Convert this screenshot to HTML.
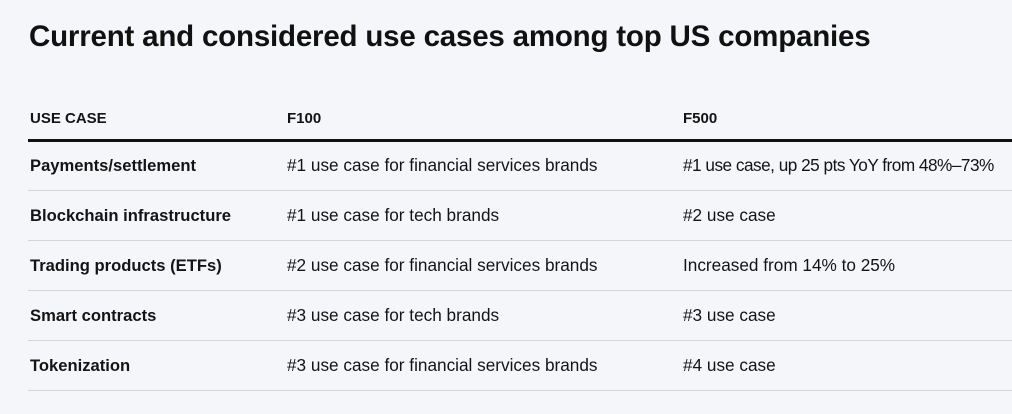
<!DOCTYPE html>
<html><head><style>
body{margin:0;width:1012px;height:414px;background:#f5f6fa;font-family:"Liberation Sans",sans-serif;color:#141414;position:relative;overflow:hidden}
.t{position:absolute;white-space:nowrap}
h1{position:absolute;left:29px;top:20px;margin:0;font-size:29.5px;font-weight:bold;letter-spacing:-0.2px;color:#111}
.h{font-weight:bold;font-size:15px}
.c1{font-weight:bold;font-size:16.6px;left:30px}
.c{font-size:17.2px}
.line{position:absolute;left:28px;width:984px;height:1px;background:#d4d5d9}
</style></head><body>
<h1>Current and considered use cases among top US companies</h1>
<div class="t h" style="left:30px;top:110px">USE CASE</div>
<div class="t h" style="left:287px;top:110px">F100</div>
<div class="t h" style="left:683px;top:110px">F500</div>
<div style="position:absolute;left:28px;top:139px;width:984px;height:3px;background:#111"></div>

<div class="t c1" style="top:156px">Payments/settlement</div>
<div class="t c" style="left:287px;top:155px">#1 use case for financial services brands</div>
<div class="t c" style="left:683px;top:155px;letter-spacing:-0.5px">#1 use case, up 25 pts YoY from 48%–73%</div>
<div class="line" style="top:190px"></div>

<div class="t c1" style="top:206px">Blockchain infrastructure</div>
<div class="t c" style="left:287px;top:205px">#1 use case for tech brands</div>
<div class="t c" style="left:683px;top:205px">#2 use case</div>
<div class="line" style="top:240px"></div>

<div class="t c1" style="top:256px">Trading products (ETFs)</div>
<div class="t c" style="left:287px;top:255px">#2 use case for financial services brands</div>
<div class="t c" style="left:683px;top:255px">Increased from 14% to 25%</div>
<div class="line" style="top:290px"></div>

<div class="t c1" style="top:306px">Smart contracts</div>
<div class="t c" style="left:287px;top:305px">#3 use case for tech brands</div>
<div class="t c" style="left:683px;top:305px">#3 use case</div>
<div class="line" style="top:340px"></div>

<div class="t c1" style="top:356px">Tokenization</div>
<div class="t c" style="left:287px;top:355px">#3 use case for financial services brands</div>
<div class="t c" style="left:683px;top:355px">#4 use case</div>
<div class="line" style="top:390px"></div>
</body></html>
